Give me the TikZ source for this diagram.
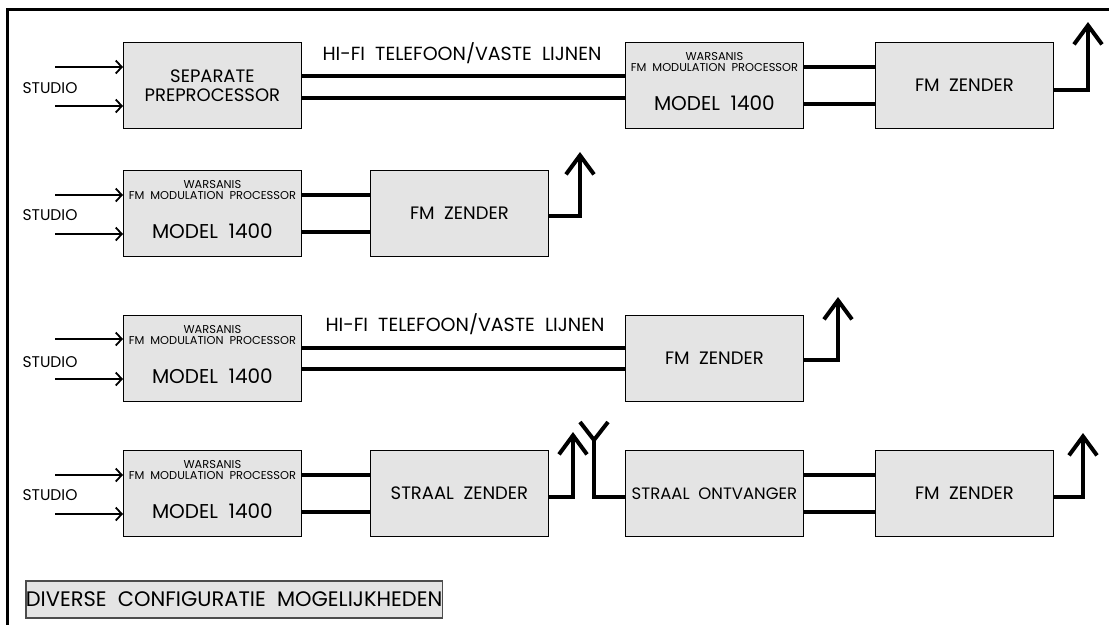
\documentclass[tikz,border=0pt]{standalone}
\usepackage{fontspec}
\setmainfont{Poppins}
\usetikzlibrary{arrows.meta,calc}
\definecolor{boxgray}{HTML}{E4E4E4}
\begin{document}
\begin{tikzpicture}[x=1pt,y=-1pt,
  blk/.style={draw=black, line width=0.8pt, fill=boxgray, anchor=north west,
    minimum width=178pt, minimum height=86pt, inner sep=0pt},
  conn/.style={line width=3.2pt},
  inarrow/.style={line width=1.8pt, -{Straight Barb[length=6pt,width=13pt,line width=1.8pt]}},
  ant/.style={line width=4pt, -{Straight Barb[length=19pt,width=28pt,line width=4pt]}},
  rx/.style={line width=4pt},
  lbl/.style={font=\fontsize{15.5}{17}\selectfont, inner sep=0pt},
  big/.style={font=\fontsize{18}{19}\selectfont, inner sep=0pt, align=center},
  tiny/.style={font=\fontsize{11.4}{12.5}\selectfont, inner sep=0pt, align=center},
  model/.style={font=\fontsize{20}{22}\selectfont, inner sep=0pt},
  sp/.style={font=\fontsize{19}{21}\selectfont, inner sep=0pt}
]
\useasboundingbox (0,0) rectangle (1109,625);
\fill[white] (0,0) rectangle (1109,625);
% frame
\draw[line width=3pt] (1109,9) -- (7,9) -- (7,625);

% ===== Row 1 =====
\node[blk] (sp1) at (123,42) {};
\node[big] (sp1t) at (sp1.center) {SEPARATE\\[0pt]PREPROCESSOR};
\node[blk] (w1) at (625,42) {};
\node[tiny] (w1t) at ($(w1.north)+(0,20)$) {WARSANIS\\[-1pt]FM\ \ MODULATION\ \ PROCESSOR};
\node[model] (w1m) at ($(w1.north)+(0,61)$) {MODEL\ \ 1400};
\node[blk] (f1) at (875,42) {};
\node[big] (f1t) at (f1.center) {FM\ \ ZENDER};
\node[lbl] (st1) at (50,88) {STUDIO};
\node[sp] (hf1) at (462,53) {HI-FI\ \ TELEFOON/VASTE\ \ LIJNEN};
\coordinate (in1a) at ($(sp1.north west)+(-68,25)$);
\coordinate (in1b) at ($(sp1.north west)+(-68,64)$);
\draw[inarrow] (in1a) -- (in1a -| sp1.west);
\draw[inarrow] (in1b) -- (in1b -| sp1.west);
\draw[conn] ($(sp1.north east)+(0,34)$) -- ($(w1.north west)+(0,34)$);
\draw[conn] ($(sp1.north east)+(0,56)$) -- ($(w1.north west)+(0,56)$);
\draw[conn] ($(w1.north east)+(0,25)$) -- ($(f1.north west)+(0,25)$);
\draw[conn] ($(w1.north east)+(0,62)$) -- ($(f1.north west)+(0,62)$);
\coordinate (a1) at (1088,22);
\draw[ant] ($(f1.north east)+(0,48)$) -| (a1);

% ===== Row 2 =====
\node[blk] (w2) at (123,170) {};
\node[tiny] (w2t) at ($(w2.north)+(0,20)$) {WARSANIS\\[-1pt]FM\ \ MODULATION\ \ PROCESSOR};
\node[model] (w2m) at ($(w2.north)+(0,61)$) {MODEL\ \ 1400};
\node[blk] (f2) at (370,170) {};
\node[big] (f2t) at (f2.center) {FM\ \ ZENDER};
\node[lbl] (st2) at (50,215) {STUDIO};
\coordinate (in2a) at ($(w2.north west)+(-68,25)$);
\coordinate (in2b) at ($(w2.north west)+(-68,64)$);
\draw[inarrow] (in2a) -- (in2a -| w2.west);
\draw[inarrow] (in2b) -- (in2b -| w2.west);
\draw[conn] ($(w2.north east)+(0,25)$) -- ($(f2.north west)+(0,25)$);
\draw[conn] ($(w2.north east)+(0,62)$) -- ($(f2.north west)+(0,62)$);
\coordinate (a2) at (580,152);
\draw[ant] ($(f2.north east)+(0,46)$) -| (a2);

% ===== Row 3 =====
\node[blk] (w3) at (123,315) {};
\node[tiny] (w3t) at ($(w3.north)+(0,20)$) {WARSANIS\\[-1pt]FM\ \ MODULATION\ \ PROCESSOR};
\node[model] (w3m) at ($(w3.north)+(0,61)$) {MODEL\ \ 1400};
\node[blk] (f3) at (625,315) {};
\node[big] (f3t) at (f3.center) {FM\ \ ZENDER};
\node[lbl] (st3) at (50,362) {STUDIO};
\node[sp] (hf3) at (465,324) {HI-FI\ \ TELEFOON/VASTE\ \ LIJNEN};
\coordinate (in3a) at ($(w3.north west)+(-68,24)$);
\coordinate (in3b) at ($(w3.north west)+(-68,64)$);
\draw[inarrow] (in3a) -- (in3a -| w3.west);
\draw[inarrow] (in3b) -- (in3b -| w3.west);
\draw[conn] ($(w3.north east)+(0,33)$) -- ($(f3.north west)+(0,33)$);
\draw[conn] ($(w3.north east)+(0,54)$) -- ($(f3.north west)+(0,54)$);
\coordinate (a3) at (838,297);
\draw[ant] ($(f3.north east)+(0,45)$) -| (a3);

% ===== Row 4 =====
\node[blk] (w4) at (123,450) {};
\node[tiny] (w4t) at ($(w4.north)+(0,20)$) {WARSANIS\\[-1pt]FM\ \ MODULATION\ \ PROCESSOR};
\node[model] (w4m) at ($(w4.north)+(0,61)$) {MODEL\ \ 1400};
\node[blk] (sz) at (370,450) {};
\node[big] (szt) at (sz.center) {STRAAL\ \ ZENDER};
\node[blk] (so) at (625,450) {};
\node[big, font=\fontsize{16.5}{18}\selectfont] (sot) at (so.center) {STRAAL\ \ ONTVANGER};
\node[blk] (f4) at (875,450) {};
\node[big] (f4t) at (f4.center) {FM\ \ ZENDER};
\node[lbl] (st4) at (50,495) {STUDIO};
\coordinate (in4a) at ($(w4.north west)+(-68,25)$);
\coordinate (in4b) at ($(w4.north west)+(-68,64)$);
\draw[inarrow] (in4a) -- (in4a -| w4.west);
\draw[inarrow] (in4b) -- (in4b -| w4.west);
\draw[conn] ($(w4.north east)+(0,25)$) -- ($(sz.north west)+(0,25)$);
\draw[conn] ($(w4.north east)+(0,62)$) -- ($(sz.north west)+(0,62)$);
\draw[conn] ($(so.north east)+(0,25)$) -- ($(f4.north west)+(0,25)$);
\draw[conn] ($(so.north east)+(0,62)$) -- ($(f4.north west)+(0,62)$);
\coordinate (a4) at (573,432);
\draw[ant] ($(sz.north east)+(0,47)$) -| (a4);
% receiving antenna
\coordinate (ry) at (594,440);
\coordinate (rl) at (580,422);
\coordinate (rr) at (608,422);
\draw[rx, line join=miter] (rl) -- (ry) -- (rr);
\draw[rx, line join=miter] (ry) |- ($(so.north west)+(0,47)$);
\coordinate (a5) at (1083,433);
\draw[ant] ($(f4.north east)+(0,47)$) -| (a5);

% ===== caption =====
\node[draw=black!70, line width=1.6pt, fill=boxgray, minimum width=370pt, minimum height=37pt,
  anchor=north west, inner sep=0pt, font=\fontsize{21}{23}\selectfont] (cap) at (25,580)
  {DIVERSE\ \ CONFIGURATIE\ \ MOGELIJKHEDEN};
\end{tikzpicture}
\end{document}
